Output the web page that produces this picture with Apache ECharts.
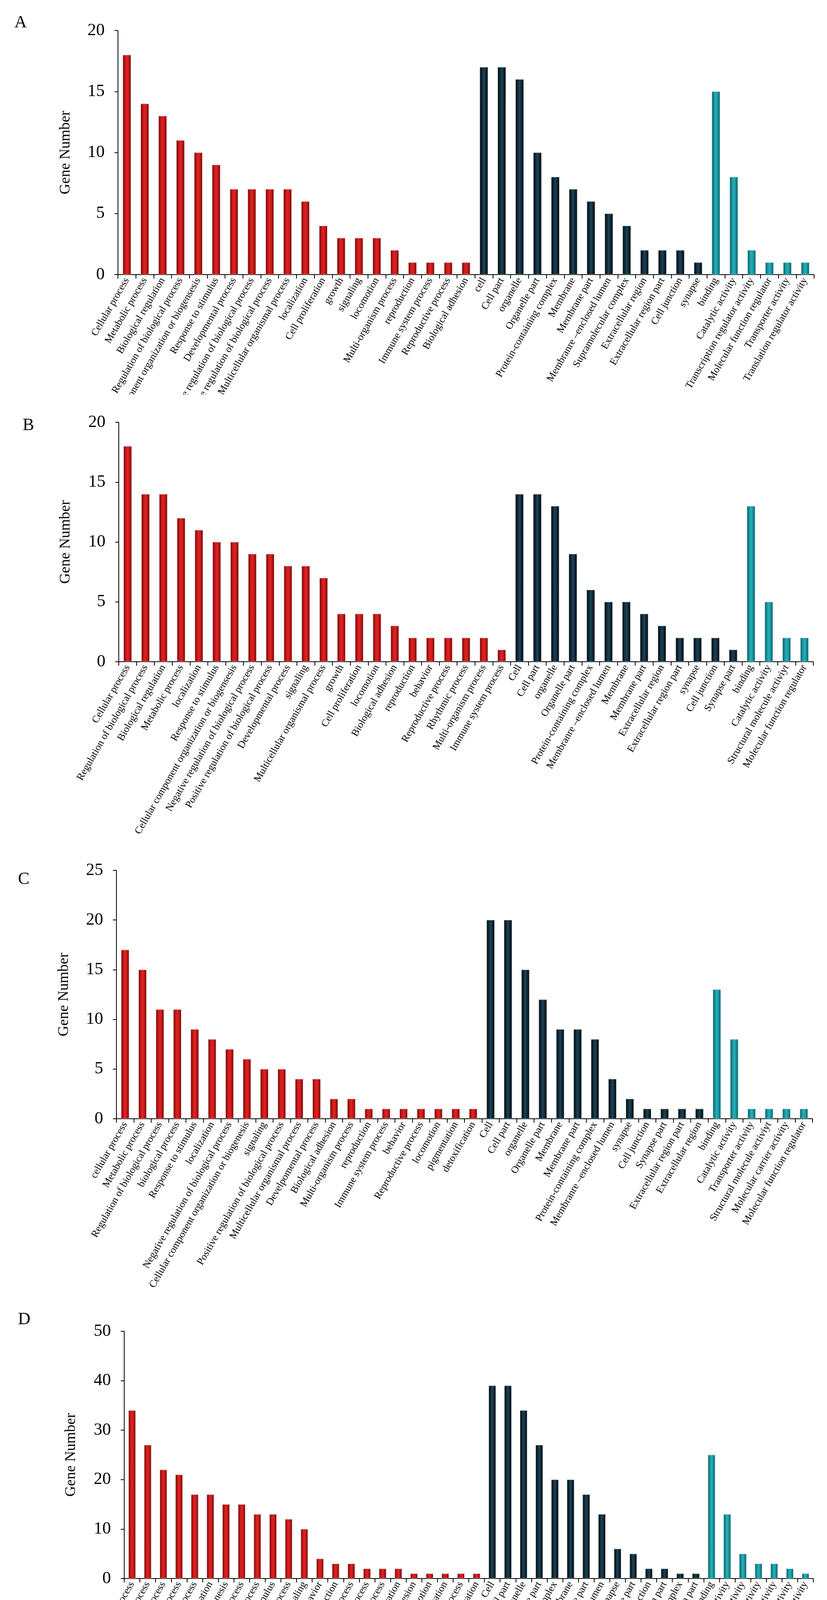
<!DOCTYPE html>
<html>
<head>
<meta charset="utf-8">
<script src="https://cdn.jsdelivr.net/npm/echarts@6/dist/echarts.min.js"></script>
<style>
  html, body { margin: 0; padding: 0; background: #fff; }
  body { width: 2117px; height: 4555px; position: relative; overflow: hidden; }
  .panel { position: absolute; left: 0; width: 2117px; overflow: hidden; }
</style>
</head>
<body>
<div id="panelA" class="panel" style="top:0;height:1010px"></div>
<div id="panelB" class="panel" style="top:1010px;height:1170px"></div>
<div id="panelC" class="panel" style="top:2180px;height:1160px"></div>
<div id="panelD" class="panel" style="top:3340px;height:1215px"></div>
<script>
// Panel A
const aBioNames = ["Cellular process", "Metabolic process", "Biological regulation", "Regulation of biological process",
  "Cellular component organization or biogensesis", "Response to stimulus", "Developmental process",
  "Negative regulation of biological process", "Positive regulation of biological process",
  "Multicellular organismal process", "localization", "Cell proliferation", "growth", "signaling", "locomotion",
  "Multi-organism process", "reproduction", "Immune system process", "Reproductive process", "Biological adhesion"]
const aBioValues = [18, 14, 13, 11, 10, 9, 7, 7, 7, 7, 6, 4, 3, 3, 3, 2, 1, 1, 1, 1]
const aCellNames = ["cell", "Cell part", "organelle", "Organelle part", "Protein-containing complex", "Membrane",
  "Membrane part", "Membranre \u2013enclosed lumen", "Supramolecular complex", "Extracellular region",
  "Extracellular region part", "Cell junction", "synapse"]
const aCellValues = [17, 17, 16, 10, 8, 7, 6, 5, 4, 2, 2, 2, 1]
const aMolNames = ["binding", "Catalytic activity", "Transcription regulator activity", "Molecular function regulator",
  "Transporter activity", "Translation regulator activity"]
const aMolValues = [15, 8, 2, 1, 1, 1]

// Panel B
const bBioNames = ["Cellular process", "Regulation of biological process", "Biological regulation", "Metabolic process",
  "localization", "Response to stimulus", "Cellular component organization or biogensesis",
  "Negative regulation of biological process", "Positive regulation of biological process", "Developmental process",
  "signaling", "Multicellular organismal process", "growth", "Cell proliferation", "locomotion", "Biological adhesion",
  "reproduction", "behavior", "Reproductive process", "Rhythmic process", "Multi-organism process", "Immune system process"]
const bBioValues = [18, 14, 14, 12, 11, 10, 10, 9, 9, 8, 8, 7, 4, 4, 4, 3, 2, 2, 2, 2, 2, 1]
const bCellNames = ["Cell", "Cell part", "organelle", "Organelle part", "Protein-containing complex",
  "Membranre \u2013enclosed lumen", "Membrane", "Membrane part", "Extracellular region", "Extracellular region part",
  "synapse", "Cell junction", "Synapse part"]
const bCellValues = [14, 14, 13, 9, 6, 5, 5, 4, 3, 2, 2, 2, 1]
const bMolNames = ["binding", "Catalytic activity", "Structural molecule activiyt", "Molecular function regulator"]
const bMolValues = [13, 5, 2, 2]

// Panel C
const cBioNames = ["cellular process", "Metabolic process", "Regulation of biological process", "biological process",
  "Response to stimulus", "localization", "Negative regulation of biological process",
  "Cellular component organization or biogenesis", "signaling", "Positive regulation of biological process",
  "Multicellular organismal process", "Develpomental process", "Biological adhesion", "Multi-organism process",
  "reproduction", "Immune system process", "behavior", "Reproductive process", "locomotion", "pigmentation",
  "detoxification"]
const cBioValues = [17, 15, 11, 11, 9, 8, 7, 6, 5, 5, 4, 4, 2, 2, 1, 1, 1, 1, 1, 1, 1]
const cCellNames = ["Cell", "Cell part", "organelle", "Organelle part", "Membrane", "Membrane part",
  "Protein-containing complex", "Membranre \u2013enclosed lumen", "synapse", "Cell junction", "Synapse part",
  "Extracellular region part", "Extracellular region"]
const cCellValues = [20, 20, 15, 12, 9, 9, 8, 4, 2, 1, 1, 1, 1]
const cMolNames = ["binding", "Catalytic activity", "Transporter activity", "Structural molecule activiyt",
  "Molecular carrier activity", "Molecular function regulator"]
const cMolValues = [13, 8, 1, 1, 1, 1]

// Panel D
const dBioNames = ["cellular process", "Metabolic process", "biological process", "Regulation of biological process",
  "Multicellular organismal process", "localization", "Cellular component organization or biogenesis",
  "Develpomental process", "Negative regulation of biological process", "Response to stimulus",
  "Positive regulation of biological process", "signaling", "behavior", "reproduction", "Reproductive process",
  "Multi-organism process", "Immune system process", "Cell proliferation", "Biological adhesion", "locomotion",
  "pigmentation", "Rhythmic process", "detoxification"]
const dBioValues = [34, 27, 22, 21, 17, 17, 15, 15, 13, 13, 12, 10, 4, 3, 3, 2, 2, 2, 1, 1, 1, 1, 1]
const dCellNames = ["Cell", "Cell part", "organelle", "Organelle part", "Protein-containing complex", "Membrane",
  "Membrane part", "Membranre \u2013enclosed lumen", "synapse", "Synapse part", "Cell junction",
  "Extracellular region part", "Supramolecular complex", "Extracellular region part"]
const dCellValues = [39, 39, 34, 27, 20, 20, 17, 13, 6, 5, 2, 2, 1, 1]
const dMolNames = ["binding", "Catalytic activity", "Transporter activity", "Structural molecule activity",
  "Molecular functionactivity", "Transcription regulator activity", "Molecular carrier activity"]
const dMolValues = [25, 13, 5, 3, 3, 2, 1]

const yMax = { A: 20, B: 20, C: 25, D: 50 }
const yStep = { A: 5, B: 5, C: 5, D: 10 }

const FONT = "'Liberation Serif', 'Times New Roman', serif"

function shade(edge, mid, center) {
  return new echarts.graphic.LinearGradient(0, 0, 1, 0, [
    { offset: 0, color: edge },
    { offset: 0.25, color: mid },
    { offset: 0.5, color: center },
    { offset: 0.75, color: mid },
    { offset: 1, color: edge }
  ])
}

const groupStyle = {
  bio: { color: shade("#5e0000", "#c01515", "#e02424"), borderColor: "#c9a0a0" },
  cell: { color: shade("#000000", "#0c2533", "#1c4558"), borderColor: "#8a9aa0" },
  mol: { color: shade("#07525a", "#13909a", "#2bb0b8"), borderColor: "#8fc4c8" }
}

function renderPanel(id, letter, letterPos, grid, nameGap, groups) {
  const names = []
  const data = []
  groups.forEach(([key, groupNames, groupValues]) => {
    groupNames.forEach((name, i) => {
      names.push(name)
      data.push({ value: groupValues[i], itemStyle: { ...groupStyle[key], borderWidth: 1 } })
    })
  })

  const chart = echarts.init(document.getElementById(id), null, { renderer: "canvas" })
  chart.setOption({
    animation: false,
    textStyle: { fontFamily: FONT },
    graphic: [{
      type: "text",
      left: letterPos[0] - 16,
      top: letterPos[1] - 22,
      style: { text: letter, font: `44px ${FONT}`, fill: "#000" }
    }],
    grid: { ...grid, containLabel: false, outerBoundsMode: "none" },
    xAxis: {
      type: "category",
      data: names,
      axisLine: { lineStyle: { color: "#000", width: 2 } },
      axisTick: { show: true, length: 10, lineStyle: { color: "#000", width: 2 } },
      axisLabel: { interval: 0, rotate: 60, margin: 10, color: "#000", fontSize: 26, fontFamily: FONT, hideOverlap: false }
    },
    yAxis: {
      type: "value",
      min: 0,
      max: yMax[letter],
      interval: yStep[letter],
      name: "Gene Number",
      nameLocation: "middle",
      nameGap,
      nameTextStyle: { color: "#000", fontSize: 38, fontFamily: FONT },
      axisLine: { show: true, lineStyle: { color: "#000", width: 2 } },
      axisTick: { show: true, length: 9, lineStyle: { color: "#000", width: 2 } },
      axisLabel: { color: "#000", fontSize: 44, margin: 34, fontFamily: FONT },
      splitLine: { show: false }
    },
    series: [{
      type: "bar",
      barWidth: "46%",
      data
    }]
  })
}

renderPanel("panelA", "A", [53, 58], { left: 302, right: 33, top: 78, bottom: 307 }, 115,
  [["bio", aBioNames, aBioValues], ["cell", aCellNames, aCellValues], ["mol", aMolNames, aMolValues]])
renderPanel("panelB", "B", [74, 79], { left: 304, right: 35, top: 71, bottom: 486 }, 117,
  [["bio", bBioNames, bBioValues], ["cell", bCellNames, bCellValues], ["mol", bMolNames, bMolValues]])
renderPanel("panelC", "C", [62, 71], { left: 298, right: 37, top: 48, bottom: 476 }, 115,
  [["bio", cBioNames, cBioValues], ["cell", cCellNames, cCellValues], ["mol", cMolNames, cMolValues]])
renderPanel("panelD", "D", [62, 38], { left: 318, right: 35, top: 68, bottom: 514 }, 117,
  [["bio", dBioNames, dBioValues], ["cell", dCellNames, dCellValues], ["mol", dMolNames, dMolValues]])
</script>
</body>
</html>
